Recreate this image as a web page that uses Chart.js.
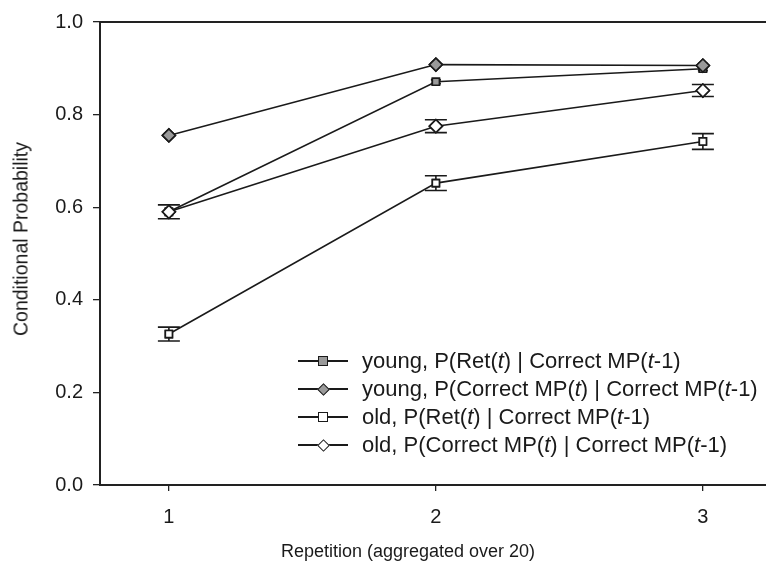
<!DOCTYPE html>
<html>
<head>
<meta charset="utf-8">
<script src="https://cdn.jsdelivr.net/npm/chart.js@4.4.0/dist/chart.umd.min.js"></script>
<style>
  html, body { margin: 0; padding: 0; background: #fff; overflow: hidden; }
  #wrap { position: relative; width: 766px; height: 574px; overflow: hidden; font-family: "Liberation Sans", Arial, sans-serif; color: #1a1a1a; }
  #legend { position: absolute; left: 298px; top: 347px; font-size: 22px; }
  .row { height: 28px; display: flex; align-items: center; white-space: nowrap; }
  .sym { position: relative; width: 50px; height: 14px; margin-right: 14px; flex: none; }
  .sym .ln { position: absolute; left: 0; right: 0; top: 6px; height: 1.5px; background: #1a1a1a; }
  .sym .mk { position: absolute; left: 20px; top: 2px; width: 10px; height: 10px; border: 1.5px solid #1a1a1a; box-sizing: border-box; }
  .sym .mk.dia { transform: rotate(45deg); width: 9px; height: 9px; top: 2.5px; left: 20.5px; }
  #xtitle { position: absolute; left: 408px; top: 541px; transform: translateX(-50%); font-size: 18px; white-space: nowrap; }
  #ytitle { position: absolute; left: 21px; top: 239px; transform: translate(-50%, -50%) rotate(-90deg); font-size: 19.5px; white-space: nowrap; }
</style>
</head>
<body>
<div id="wrap">
  <canvas id="chart" width="774" height="574"></canvas>
  <div id="legend"></div>
  <div id="xtitle">Repetition (aggregated over 20)</div>
  <div id="ytitle">Conditional Probability</div>
</div>
<script>
// Repetitions (x) and conditional probabilities
const reps = [1, 2, 3];
const youngRet = [0.590, 0.871, 0.899];
const youngCorr = [0.755, 0.908, 0.906];
const oldRet = [0.326, 0.652, 0.742];
const oldCorr = [0.590, 0.775, 0.852];
// standard errors (half bar length)
const youngRetErr = [0.004, 0.004, 0.004];
const youngCorrErr = [0.004, 0.004, 0.004];
const oldRetErr = [0.015, 0.016, 0.017];
const oldCorrErr = [0.015, 0.014, 0.013];
const yTicks = [0, 0.2, 0.4, 0.6, 0.8, 1.0];

const labels = [
  'young, P(Ret(<i>t</i>) | Correct MP(<i>t</i>-1)',
  'young, P(Correct MP(<i>t</i>) | Correct MP(<i>t</i>-1)',
  'old, P(Ret(<i>t</i>) | Correct MP(<i>t</i>-1)',
  'old, P(Correct MP(<i>t</i>) | Correct MP(<i>t</i>-1)'
];

const FONT = '"Liberation Sans", Arial, sans-serif';
const pts = arr => reps.map((r, i) => ({ x: r, y: arr[i] }));

function ds(arr, err, cap, style, fill, radius) {
  return {
    data: pts(arr), err: err, cap: cap,
    borderColor: '#1a1a1a', borderWidth: 1.6,
    pointStyle: style, pointRadius: radius, pointBackgroundColor: fill,
    pointBorderColor: '#1a1a1a', pointBorderWidth: 1.6, fill: false, tension: 0
  };
}

const errorBars = {
  id: 'errorBars',
  afterDatasetsDraw(chart) {
    const ctx = chart.ctx, y = chart.scales.y;
    ctx.save();
    ctx.strokeStyle = '#1a1a1a';
    ctx.lineWidth = 1.6;
    chart.data.datasets.forEach((d, di) => {
      const meta = chart.getDatasetMeta(di);
      meta.data.forEach((p, i) => {
        const v = d.data[i].y, e = d.err[i];
        const top = y.getPixelForValue(v + e), bot = y.getPixelForValue(v - e);
        ctx.beginPath();
        ctx.moveTo(p.x, top); ctx.lineTo(p.x, bot);
        ctx.moveTo(p.x - d.cap, top); ctx.lineTo(p.x + d.cap, top);
        ctx.moveTo(p.x - d.cap, bot); ctx.lineTo(p.x + d.cap, bot);
        ctx.stroke();
      });
    });
    ctx.restore();
    // markers back on top of the bars
    chart.data.datasets.forEach((d, di) => {
      chart.getDatasetMeta(di).data.forEach(p => p.draw(ctx, chart.chartArea));
    });
  }
};

new Chart(document.getElementById('chart'), {
  type: 'line',
  data: {
    datasets: [
      ds(youngRet, youngRetErr, 5, 'rect', '#9a9a9a', 5),
      ds(youngCorr, youngCorrErr, 5, 'rectRot', '#9a9a9a', 6.5),
      ds(oldRet, oldRetErr, 11, 'rect', '#ffffff', 5),
      ds(oldCorr, oldCorrErr, 11, 'rectRot', '#ffffff', 6.5)
    ]
  },
  options: {
    responsive: false, animation: false,
    layout: { padding: { top: 19, right: 0, left: 0, bottom: 0 } },
    plugins: { legend: { display: false }, tooltip: { enabled: false } },
    scales: {
      x: {
        type: 'linear', min: 0.742, max: 3.236,
        afterBuildTicks: s => { s.ticks = reps.map(v => ({ value: v })); },
        afterFit: s => { s.height = 89; },
        grid: { drawOnChartArea: false, drawTicks: true, tickLength: 6, color: '#222', lineWidth: 1.3 },
        border: { display: true, color: '#222', width: 2 },
        ticks: { color: '#1a1a1a', font: { family: FONT, size: 20 }, padding: 14 }
      },
      x2: {
        type: 'linear', position: 'top', min: 0.742, max: 3.236,
        afterFit: s => { s.height = 0; },
        grid: { display: false }, ticks: { display: false },
        border: { display: true, color: '#222', width: 2 }
      },
      y: {
        min: 0, max: 1,
        afterBuildTicks: s => { s.ticks = yTicks.map(v => ({ value: v })); },
        afterFit: s => { s.width = 100; },
        grid: { drawOnChartArea: false, drawTicks: true, tickLength: 7, color: '#222', lineWidth: 1.3 },
        border: { display: true, color: '#222', width: 2 },
        ticks: { color: '#1a1a1a', font: { family: FONT, size: 20 }, padding: 10, callback: v => v.toFixed(1) }
      }
    }
  },
  plugins: [errorBars]
});

// legend with line + marker samples
const marks = [['sq', '#9a9a9a'], ['dia', '#9a9a9a'], ['sq', '#fff'], ['dia', '#fff']];
document.getElementById('legend').innerHTML = labels.map((t, i) =>
  `<div class="row"><span class="sym"><span class="ln"></span><span class="mk ${marks[i][0]}" style="background:${marks[i][1]}"></span></span><span>${t}</span></div>`
).join('');
</script>
</body>
</html>
